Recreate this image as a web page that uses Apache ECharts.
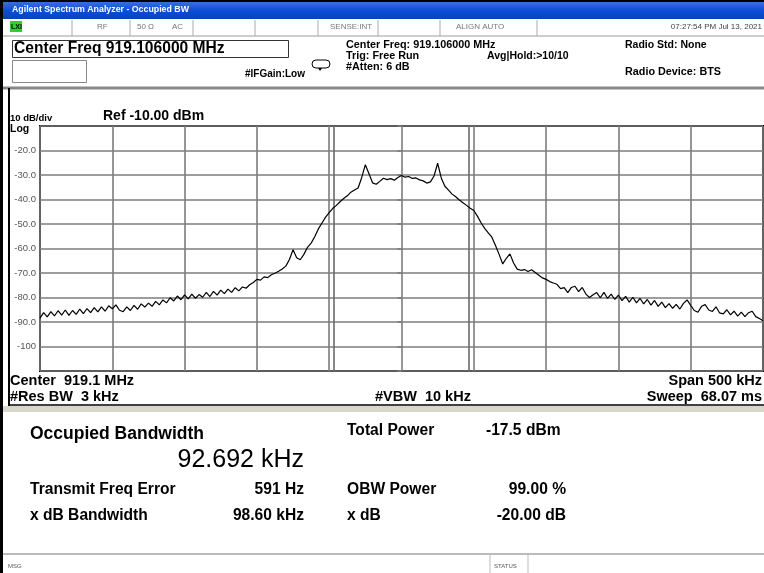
<!DOCTYPE html>
<html>
<head>
<meta charset="utf-8">
<script src="https://cdn.jsdelivr.net/npm/echarts@6/dist/echarts.min.js"></script>
<style>
  html, body { margin: 0; padding: 0; background: #fff; }
  #main { width: 764px; height: 573px; }
</style>
</head>
<body>
<div id="main"></div>
<script>
// frequency offset from centre, kHz (500 kHz span, 2.5 kHz per point)
const spanStart = -250;
const spanStep = 2.5;
// trace level, dBm
const traceLevels = [
  -88.4, -86.2, -87.9, -85.8, -87.5, -85.4, -87.2, -85.1, -87.3, -85.3,
  -86.9, -84.7, -86.6, -84.5, -86.2, -84.1, -85.9, -83.8, -85.6, -83.4,
  -84.6, -83.0, -85.2, -85.8, -83.8, -85.3, -83.2, -84.8, -82.6, -83.9,
  -82.3, -83.6, -81.6, -83.0, -81.0, -82.2, -80.1, -81.4, -79.4, -80.9,
  -78.9, -80.6, -78.6, -80.3, -78.8, -79.9, -77.9, -79.6, -77.5, -79.0,
  -77.0, -78.4, -76.6, -77.9, -76.0, -77.3, -75.7, -76.2, -74.8, -73.9,
  -72.6, -72.9, -71.6, -71.9, -70.7, -70.1, -69.3, -68.4, -67.2, -64.5,
  -60.5, -63.8, -64.6, -62.4, -59.5, -57.8, -55.2, -52.0, -49.6, -47.2,
  -45.4, -43.6, -42.4, -40.9, -39.6, -38.5, -37.0, -36.1, -35.3, -31.0,
  -25.8, -29.5, -33.2, -33.8, -32.6, -31.3, -31.9, -31.5, -32.1, -31.0,
  -30.2, -30.9, -30.6, -31.4, -31.2, -32.0, -32.4, -33.3, -32.8, -30.4,
  -25.2, -31.2, -34.6, -36.2, -37.8, -38.9, -40.2, -41.3, -42.4, -43.6,
  -44.5, -46.8, -49.5, -51.8, -53.6, -55.4, -58.8, -62.4, -66.3, -64.0,
  -62.2, -65.9, -68.4, -68.9, -68.6, -69.4, -68.7, -69.8, -70.9, -72.0,
  -72.6, -73.5, -74.1, -74.6, -76.4, -76.0, -78.0, -75.9, -75.4, -77.6,
  -75.9, -78.6, -80.0, -78.9, -78.0, -80.1, -77.9, -80.4, -78.6, -80.8,
  -79.0, -81.3, -79.5, -81.9, -79.9, -82.2, -80.4, -82.6, -80.8, -83.1,
  -81.2, -83.6, -81.9, -84.1, -82.5, -84.4, -82.8, -84.7, -82.4, -81.0,
  -83.2, -85.3, -86.0, -83.6, -82.9, -85.1, -85.7, -83.8, -86.3, -86.7,
  -85.0, -87.1, -85.6, -87.6, -86.0, -87.8, -86.2, -85.6, -87.8, -88.6,
  -89.5
];
// occupied bandwidth edges, kHz offset
const obwEdges = [-46.7, 46.7];
const yTicks = [-110, -10, 10];   // min, max, dB/div

const traceData = traceLevels.map((v, i) => [spanStart + i * spanStep, v]);

const FONT = '"Liberation Sans", Arial, sans-serif';
function t(x, y, text, size, opts) {
  opts = opts || {};
  return {
    type: 'text', z: 10,
    style: {
      x: x, y: y, text: text,
      font: (opts.weight || 'bold') + ' ' + size + 'px ' + FONT,
      fill: opts.fill || '#000',
      align: opts.align || 'left',
      verticalAlign: 'middle'
    }
  };
}
function r(x, y, w, h, fill, stroke, lw) {
  return {
    type: 'rect', z: 1,
    shape: { x: x, y: y, width: w, height: h },
    style: { fill: fill || 'none', stroke: stroke || null, lineWidth: lw || 1 }
  };
}
function l(x1, y1, x2, y2, color, lw) {
  return {
    type: 'line', z: 2,
    shape: { x1: x1, y1: y1, x2: x2, y2: y2 },
    style: { stroke: color, lineWidth: lw || 1 }
  };
}

const graphics = [
  // window chrome
  r(0, 0, 764, 2, '#000'),
  {
    type: 'rect', z: 1,
    shape: { x: 0, y: 2, width: 764, height: 17 },
    style: { fill: new echarts.graphic.LinearGradient(0, 0, 0, 1, [
      { offset: 0, color: '#3a6ee0' }, { offset: 0.5, color: '#0b4fd6' }, { offset: 1, color: '#0842c0' }]) }
  },
  t(12, 10, 'Agilent Spectrum Analyzer - Occupied BW', 8.8, { fill: '#fff' }),
  r(0, 0, 3, 573, '#000'),
  // status row
  l(3, 36, 764, 36, '#9a9a9a'),
  r(10, 21, 12, 11, '#2fd12f'),
  t(11, 27, 'LXI', 7, { fill: '#000' }),
  l(72, 20, 72, 36, '#aaa'), l(130, 20, 130, 36, '#aaa'), l(193, 20, 193, 36, '#aaa'),
  l(255, 20, 255, 36, '#aaa'), l(318, 20, 318, 36, '#aaa'), l(378, 20, 378, 36, '#aaa'),
  l(440, 20, 440, 36, '#aaa'), l(537, 20, 537, 36, '#aaa'),
  t(97, 27, 'RF', 8, { weight: 'normal', fill: '#777' }),
  t(137, 27, '50 Ω', 8, { weight: 'normal', fill: '#777' }),
  t(172, 27, 'AC', 8, { weight: 'normal', fill: '#777' }),
  t(330, 27, 'SENSE:INT', 8, { weight: 'normal', fill: '#777' }),
  t(456, 27, 'ALIGN AUTO', 8, { weight: 'normal', fill: '#777' }),
  t(762, 27, '07:27:54 PM Jul 13, 2021', 8, { weight: 'normal', fill: '#444', align: 'right' }),
  // header
  r(12.5, 40.5, 276, 17, null, '#333', 1),
  t(14, 49, 'Center Freq 919.106000 MHz', 15.6),
  r(12.5, 60.5, 74, 22, null, '#888', 1),
  t(245, 74, '#IFGain:Low', 10),
  { type: 'rect', z: 3, shape: { x: 312, y: 60, width: 18, height: 8, r: 4 }, style: { fill: '#fff', stroke: '#000', lineWidth: 1 } },
  { type: 'polygon', z: 4, shape: { points: [[318, 68], [322, 68], [320, 71]] }, style: { fill: '#000' } },
  t(346, 45, 'Center Freq: 919.106000 MHz', 10.8),
  t(346, 56, 'Trig: Free Run', 10.8),
  t(346, 67, '#Atten: 6 dB', 10.8),
  t(487, 56, 'Avg|Hold:>10/10', 10.5),
  t(625, 45, 'Radio Std: None', 10.5),
  t(625, 72, 'Radio Device: BTS', 10.8),
  // trace window frame
  l(3, 88, 764, 88, '#888', 3),
  l(9, 88, 9, 406, '#000', 2),
  t(10, 118, '10 dB/div', 9.5),
  t(103, 116, 'Ref -10.00 dBm', 14),
  t(10, 129, 'Log', 10.5),
  t(10, 381, 'Center  919.1 MHz', 14.5),
  t(10, 397, '#Res BW  3 kHz', 14.5),
  t(375, 397, '#VBW  10 kHz', 14.5),
  t(762, 381, 'Span 500 kHz', 14.5, { align: 'right' }),
  t(762, 397, 'Sweep  68.07 ms', 14.5, { align: 'right' }),
  l(9, 405, 764, 405, '#000', 1.5),
  r(3, 406, 761, 6, '#d9d6cc'),
  // results
  t(30, 434, 'Occupied Bandwidth', 17.5),
  t(304, 460, '92.692 kHz', 25, { weight: 'normal', align: 'right' }),
  t(347, 431, 'Total Power', 15.6),
  t(486, 431, '-17.5 dBm', 15.6),
  t(30, 490, 'Transmit Freq Error', 15.6),
  t(304, 490, '591 Hz', 15.6, { align: 'right' }),
  t(347, 490, 'OBW Power', 15.6),
  t(566, 490, '99.00 %', 15.6, { align: 'right' }),
  t(30, 516, 'x dB Bandwidth', 15.6),
  t(304, 516, '98.60 kHz', 15.6, { align: 'right' }),
  t(347, 516, 'x dB', 15.6),
  t(566, 516, '-20.00 dB', 15.6, { align: 'right' }),
  // status bar
  l(3, 554, 764, 554, '#bbb', 2),
  l(490, 555, 490, 573, '#bbb'), l(528, 555, 528, 573, '#bbb'),
  t(8, 566, 'MSG', 6, { weight: 'normal', fill: '#555' }),
  t(494, 566, 'STATUS', 6, { weight: 'normal', fill: '#555' })
];

const chart = echarts.init(document.getElementById('main'));
chart.setOption({
  backgroundColor: '#fff',
  animation: false,
  graphic: graphics,
  grid: {
    left: 40, top: 126, width: 723, height: 245,
    show: true, borderColor: '#000', borderWidth: 2, backgroundColor: 'transparent'
  },
  xAxis: {
    type: 'value', min: -250, max: 250, interval: 50,
    axisLine: { show: false }, axisTick: { show: false }, axisLabel: { show: false },
    splitLine: { show: true, lineStyle: { color: '#7c7c7c', width: 1.6 } }
  },
  yAxis: {
    type: 'value', min: yTicks[0], max: yTicks[1], interval: yTicks[2],
    axisLine: { show: false },
    axisTick: { show: true, length: 4, lineStyle: { color: '#7c7c7c', width: 1.6 } },
    axisLabel: {
      color: '#555', fontSize: 9.5, fontFamily: FONT, margin: 4,
      formatter: v => (v === -10 || v === -110) ? '' : (v === -100 ? '-100' : v.toFixed(1))
    },
    splitLine: { show: true, lineStyle: { color: '#7c7c7c', width: 1.6 } }
  },
  series: [{
    type: 'line',
    data: traceData,
    showSymbol: false,
    lineStyle: { color: '#000', width: 1.2 },
    z: 5,
    markLine: {
      silent: true, symbol: 'none', label: { show: false },
      lineStyle: { color: '#6a6a6a', width: 1.6, type: 'solid' },
      data: obwEdges.map(x => ({ xAxis: x }))
    }
  }]
});
</script>
</body>
</html>
